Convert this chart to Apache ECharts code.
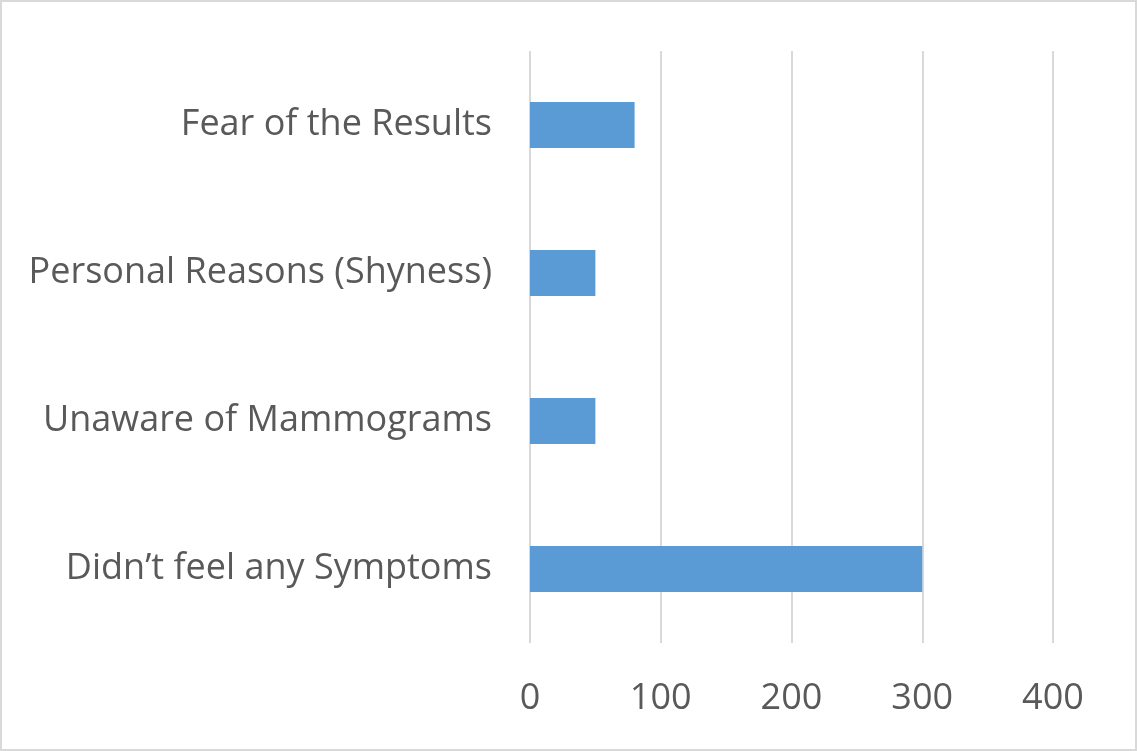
<!DOCTYPE html>
<html>
<head>
<meta charset="utf-8">
<script src="https://cdn.jsdelivr.net/npm/echarts@6/dist/echarts.min.js"></script>
<style>
  html, body { margin: 0; padding: 0; background: #fff; }
  #chart { width: 1133px; height: 747px; border: 2px solid #d9d9d9; }
</style>
</head>
<body>
<div id="chart"></div>
<script>
var categories = ['Didn\u2019t feel any Symptoms', 'Unaware of Mammograms', 'Personal Reasons (Shyness)', 'Fear of the Results'];
var counts = [300, 50, 50, 80];

var myChart = echarts.init(document.getElementById('chart'));
var option = {
    backgroundColor: '#fff',
    animation: false,
    grid: { left: 528, right: 82, top: 49, bottom: 106 },
    xAxis: {
        type: 'value',
        min: 0,
        max: 400,
        interval: 100,
        axisLine: { show: false },
        axisTick: { show: false },
        splitLine: { lineStyle: { color: '#d9d9d9', width: 2 } },
        axisLabel: { color: '#595959', fontFamily: 'Open Sans', fontSize: 36, margin: 38 }
    },
    yAxis: {
        type: 'category',
        data: categories,
        axisLine: { show: false },
        axisTick: { show: false },
        axisLabel: { color: '#595959', fontFamily: 'Open Sans', fontSize: 36, margin: 38, padding: [5, 0, 0, 0] }
    },
    series: [{
        type: 'bar',
        data: counts,
        barWidth: '31%',
        itemStyle: { color: '#5b9bd5' }
    }]
};
myChart.setOption(option);
</script>
</body>
</html>
